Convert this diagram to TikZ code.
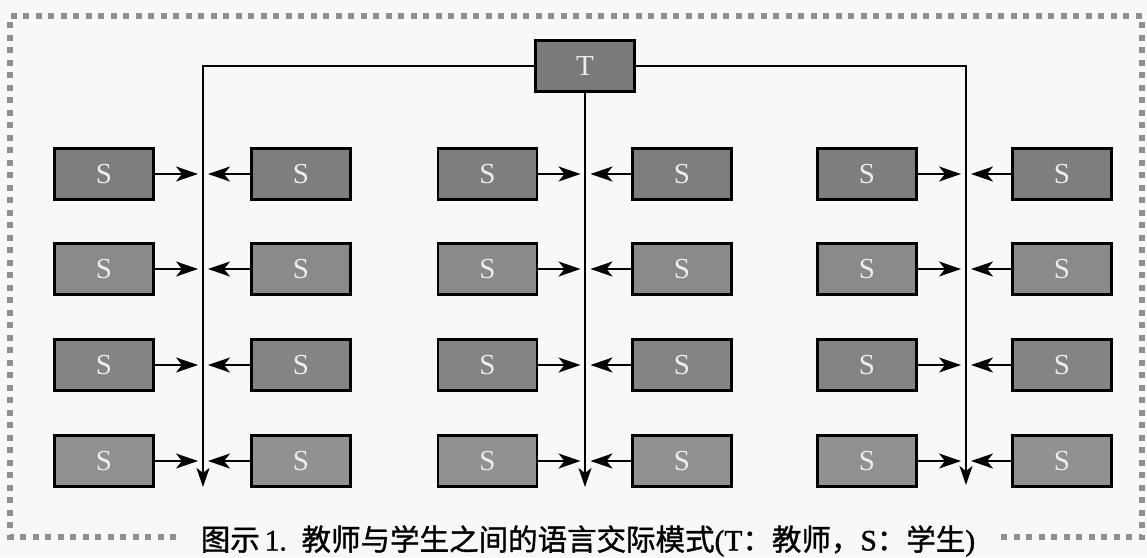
\documentclass[tikz,border=0pt]{standalone}
\usepackage{fontspec}
\setmainfont{Liberation Serif}
\newfontfamily\cjk[FakeBold=1.2]{Noto Sans CJK SC}
\newfontfamily\capfont[FakeBold=1.2]{Liberation Serif}
\usetikzlibrary{arrows.meta}
\definecolor{bg}{HTML}{F8F8F8}
\definecolor{dotc}{HTML}{909090}
\definecolor{tfill}{HTML}{7A7A7A}
\definecolor{rowa}{HTML}{7E7E7E}
\definecolor{rowb}{HTML}{8A8A8A}
\definecolor{rowc}{HTML}{848484}
\definecolor{rowd}{HTML}{919191}
\definecolor{labc}{HTML}{EDEDED}
\begin{document}
\begin{tikzpicture}[x=1pt,y=-1pt,
  box/.style={draw=black, line width=2.2pt, minimum width=99pt, minimum height=51pt,
    inner sep=0pt, text=labc, font=\fontsize{29}{29}\selectfont},
  link/.style={line width=1.8pt, shorten >=5pt, -{Stealth[length=22pt,width=15pt,inset=6pt]}},
  trunk/.style={line width=1.8pt, -{Stealth[length=19pt,width=13pt,inset=5pt]}},
  border/.style={line width=6pt, draw=dotc, dash pattern=on 6pt off 6.5pt}]
\useasboundingbox (0,0) rectangle (1147,557);
\fill[bg] (0,0) rectangle (1147,557);
% dotted frame
\draw[border] (176,537) -- (10,537) -- (10,16) -- (1142,16) -- (1142,537) -- (997,537);
% teacher
\node[box, fill=tfill] (T) at (585,66) {T};
% line coordinates
\coordinate (Lbot) at (203,487);
\coordinate (Mbot) at (585.5,487);
\coordinate (Rbot) at (966,485);
% students
\foreach \r/\y/\c in {1/174/rowa, 2/269/rowb, 3/365/rowc, 4/461/rowd}{
  \node[box, fill=\c] (s\r1) at (104,\y) {S};
  \node[box, fill=\c] (s\r2) at (301,\y) {S};
  \node[box, fill=\c] (s\r3) at (487.5,\y) {S};
  \node[box, fill=\c] (s\r4) at (682,\y) {S};
  \node[box, fill=\c] (s\r5) at (867,\y) {S};
  \node[box, fill=\c] (s\r6) at (1062,\y) {S};
}
% trunks
\draw[trunk] (T.west) -| (Lbot);
\draw[trunk] (T.east) -| (Rbot);
\draw[trunk] (T.south) -- (T.south |- Mbot);
% student arrows
\foreach \r in {1,2,3,4}{
  \draw[link] (s\r1.east) -- (s\r1.east -| Lbot);
  \draw[link] (s\r2.west) -- (s\r2.west -| Lbot);
  \draw[link] (s\r3.east) -- (s\r3.east -| Mbot);
  \draw[link] (s\r4.west) -- (s\r4.west -| Mbot);
  \draw[link] (s\r5.east) -- (s\r5.east -| Rbot);
  \draw[link] (s\r6.west) -- (s\r6.west -| Rbot);
}
% caption
\node[font=\capfont\fontsize{29.5}{29.5}\selectfont, inner sep=0pt] (cap) at (588,541)
  {{\cjk 图示}\,1.\ \ {\cjk 教师与学生之间的语言交际模式}(T{\cjk ：教师，}S{\cjk ：学生})};
\end{tikzpicture}
\end{document}
